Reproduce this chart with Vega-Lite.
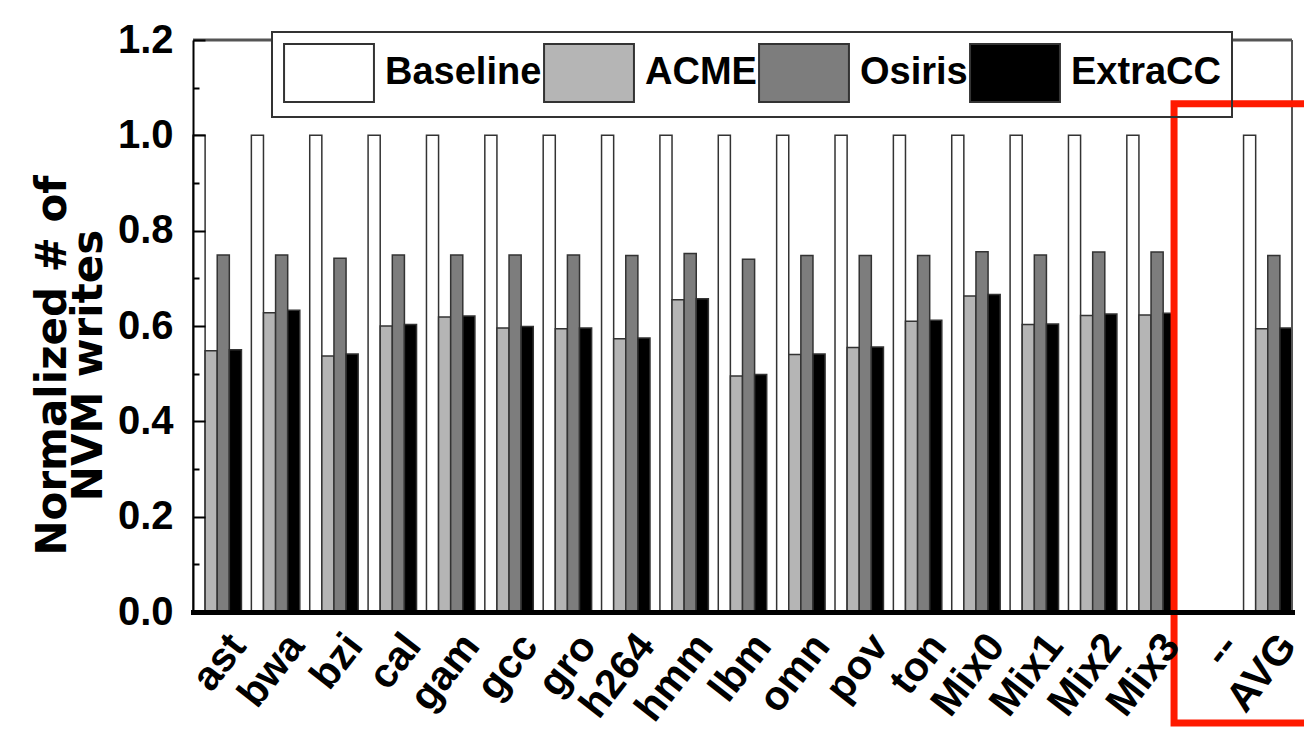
{
  "$schema": "https://vega.github.io/schema/vega-lite/v6.json",
  "autosize": "none",
  "padding": {"left": 193, "top": 40, "right": 12, "bottom": 117},
  "width": 1099,
  "height": 572,
  "background": "white",
  "data": {
    "values": [
      {"bench": "ast", "scheme": "Baseline", "value": 1.0}, {"bench": "ast", "scheme": "ACME", "value": 0.548}, {"bench": "ast", "scheme": "Osiris", "value": 0.749}, {"bench": "ast", "scheme": "ExtraCC", "value": 0.55},
      {"bench": "bwa", "scheme": "Baseline", "value": 1.0}, {"bench": "bwa", "scheme": "ACME", "value": 0.628}, {"bench": "bwa", "scheme": "Osiris", "value": 0.749}, {"bench": "bwa", "scheme": "ExtraCC", "value": 0.633},
      {"bench": "bzi", "scheme": "Baseline", "value": 1.0}, {"bench": "bzi", "scheme": "ACME", "value": 0.537}, {"bench": "bzi", "scheme": "Osiris", "value": 0.742}, {"bench": "bzi", "scheme": "ExtraCC", "value": 0.541},
      {"bench": "cal", "scheme": "Baseline", "value": 1.0}, {"bench": "cal", "scheme": "ACME", "value": 0.6}, {"bench": "cal", "scheme": "Osiris", "value": 0.749}, {"bench": "cal", "scheme": "ExtraCC", "value": 0.603},
      {"bench": "gam", "scheme": "Baseline", "value": 1.0}, {"bench": "gam", "scheme": "ACME", "value": 0.619}, {"bench": "gam", "scheme": "Osiris", "value": 0.749}, {"bench": "gam", "scheme": "ExtraCC", "value": 0.621},
      {"bench": "gcc", "scheme": "Baseline", "value": 1.0}, {"bench": "gcc", "scheme": "ACME", "value": 0.596}, {"bench": "gcc", "scheme": "Osiris", "value": 0.749}, {"bench": "gcc", "scheme": "ExtraCC", "value": 0.599},
      {"bench": "gro", "scheme": "Baseline", "value": 1.0}, {"bench": "gro", "scheme": "ACME", "value": 0.594}, {"bench": "gro", "scheme": "Osiris", "value": 0.749}, {"bench": "gro", "scheme": "ExtraCC", "value": 0.596},
      {"bench": "h264", "scheme": "Baseline", "value": 1.0}, {"bench": "h264", "scheme": "ACME", "value": 0.573}, {"bench": "h264", "scheme": "Osiris", "value": 0.748}, {"bench": "h264", "scheme": "ExtraCC", "value": 0.575},
      {"bench": "hmm", "scheme": "Baseline", "value": 1.0}, {"bench": "hmm", "scheme": "ACME", "value": 0.655}, {"bench": "hmm", "scheme": "Osiris", "value": 0.752}, {"bench": "hmm", "scheme": "ExtraCC", "value": 0.657},
      {"bench": "lbm", "scheme": "Baseline", "value": 1.0}, {"bench": "lbm", "scheme": "ACME", "value": 0.495}, {"bench": "lbm", "scheme": "Osiris", "value": 0.74}, {"bench": "lbm", "scheme": "ExtraCC", "value": 0.498},
      {"bench": "omn", "scheme": "Baseline", "value": 1.0}, {"bench": "omn", "scheme": "ACME", "value": 0.54}, {"bench": "omn", "scheme": "Osiris", "value": 0.748}, {"bench": "omn", "scheme": "ExtraCC", "value": 0.541},
      {"bench": "pov", "scheme": "Baseline", "value": 1.0}, {"bench": "pov", "scheme": "ACME", "value": 0.555}, {"bench": "pov", "scheme": "Osiris", "value": 0.748}, {"bench": "pov", "scheme": "ExtraCC", "value": 0.556},
      {"bench": "ton", "scheme": "Baseline", "value": 1.0}, {"bench": "ton", "scheme": "ACME", "value": 0.61}, {"bench": "ton", "scheme": "Osiris", "value": 0.748}, {"bench": "ton", "scheme": "ExtraCC", "value": 0.612},
      {"bench": "Mix0", "scheme": "Baseline", "value": 1.0}, {"bench": "Mix0", "scheme": "ACME", "value": 0.663}, {"bench": "Mix0", "scheme": "Osiris", "value": 0.756}, {"bench": "Mix0", "scheme": "ExtraCC", "value": 0.666},
      {"bench": "Mix1", "scheme": "Baseline", "value": 1.0}, {"bench": "Mix1", "scheme": "ACME", "value": 0.603}, {"bench": "Mix1", "scheme": "Osiris", "value": 0.749}, {"bench": "Mix1", "scheme": "ExtraCC", "value": 0.604},
      {"bench": "Mix2", "scheme": "Baseline", "value": 1.0}, {"bench": "Mix2", "scheme": "ACME", "value": 0.622}, {"bench": "Mix2", "scheme": "Osiris", "value": 0.755}, {"bench": "Mix2", "scheme": "ExtraCC", "value": 0.625},
      {"bench": "Mix3", "scheme": "Baseline", "value": 1.0}, {"bench": "Mix3", "scheme": "ACME", "value": 0.623}, {"bench": "Mix3", "scheme": "Osiris", "value": 0.755}, {"bench": "Mix3", "scheme": "ExtraCC", "value": 0.627},
      {"bench": "AVG", "scheme": "Baseline", "value": 1.0}, {"bench": "AVG", "scheme": "ACME", "value": 0.594}, {"bench": "AVG", "scheme": "Osiris", "value": 0.748}, {"bench": "AVG", "scheme": "ExtraCC", "value": 0.596}
    ]
  },
  "encoding": {
    "x": {
      "field": "bench",
      "type": "nominal",
      "scale": {
        "domain": ["ast", "bwa", "bzi", "cal", "gam", "gcc", "gro", "h264", "hmm", "lbm", "omn", "pov", "ton", "Mix0", "Mix1", "Mix2", "Mix3", "--", "AVG"],
        "paddingInner": 0.17,
        "paddingOuter": 0
      },
      "axis": {
        "title": null,
        "labelAngle": -52,
        "labelAlign": "right",
        "labelBaseline": "middle",
        "ticks": false,
        "domainWidth": 5,
        "domainColor": "black",
        "domainCap": "square",
        "zindex": 2,
        "labelFont": "Liberation Sans",
        "labelFontWeight": "bold",
        "labelFontSize": 41,
        "labelColor": "black",
        "labelPadding": 27,
        "labelOffset": 21,
        "labelLimit": 300
      }
    },
    "y": {
      "field": "value",
      "type": "quantitative",
      "scale": {"domain": [0, 1.2], "nice": false, "zero": true},
      "axis": {
        "values": [0, 0.1, 0.2, 0.3, 0.4, 0.5, 0.6, 0.7, 0.8, 0.9, 1.0, 1.1, 1.2],
        "labelExpr": "round(datum.value*10)%2===0 ? format(datum.value,'.1f') : ''",
        "tickSize": {"condition": {"test": "round(datum.value*10)%2===0", "value": -12}, "value": -6},
        "tickColor": "black",
        "tickWidth": 2,
        "domainColor": "black",
        "domainWidth": 2,
        "zindex": 2,
        "grid": false,
        "labelFont": "Liberation Sans",
        "labelFontWeight": "bold",
        "labelFontSize": 40,
        "labelColor": "black",
        "labelPadding": 32,
        "labelFlush": false,
        "labelOverlap": false,
        "title": ["Normalized # of", "NVM writes"],
        "titleFont": "DejaVu Sans",
        "titleFontWeight": "bold",
        "titleFontSize": 42,
        "titleColor": "black",
        "titleX": -128,
        "titleY": 325,
        "titleAngle": -90,
        "titleAlign": "center",
        "titleBaseline": "alphabetic",
        "titleLineHeight": 36
      }
    }
  },
  "layer": [
    {
      "mark": {"type": "bar", "stroke": "#333", "strokeWidth": 1.5},
      "encoding": {
        "xOffset": {
          "field": "scheme",
          "type": "nominal",
          "scale": {"domain": ["Baseline", "ACME", "Osiris", "ExtraCC"], "paddingInner": 0, "paddingOuter": 0}
        },
        "color": {
          "field": "scheme",
          "type": "nominal",
          "scale": {"domain": ["Baseline", "ACME", "Osiris", "ExtraCC"], "range": ["#ffffff", "#b5b5b5", "#7d7d7d", "#000000"]},
          "legend": {
            "title": null,
            "orient": "none",
            "legendX": 79,
            "legendY": -8,
            "direction": "horizontal",
            "symbolType": "M-1.55,-1H1.55V1H-1.55Z",
            "symbolSize": 3364,
            "symbolStrokeColor": "#333",
            "symbolStrokeWidth": 2,
            "symbolOffset": 16,
            "labelFont": "Liberation Sans",
            "labelFontWeight": "bold",
            "labelFontSize": 38,
            "labelColor": "black",
            "labelOffset": 26,
            "labelLimit": 300,
            "columnPadding": -2,
            "padding": 11,
            "fillColor": "transparent",
            "strokeColor": "#333"
          }
        }
      }
    },
    {
      "transform": [{"filter": "datum.bench === 'AVG' && datum.scheme === 'Baseline'"}],
      "mark": {"type": "rule", "stroke": "#555", "strokeWidth": 3},
      "encoding": {
        "x": {"datum": "ast", "bandPosition": 0},
        "x2": {"datum": "bwa", "bandPosition": 0.43},
        "y": {"datum": 1.2}
      }
    },
    {
      "transform": [{"filter": "datum.bench === 'AVG' && datum.scheme === 'Baseline'"}],
      "mark": {"type": "rule", "stroke": "#555", "strokeWidth": 3},
      "encoding": {
        "x": {"datum": "--", "bandPosition": 0.97},
        "x2": {"datum": "AVG", "bandPosition": 1},
        "y": {"datum": 1.2}
      }
    },
    {
      "transform": [{"filter": "datum.bench === 'AVG' && datum.scheme === 'Baseline'"}],
      "mark": {"type": "rule", "stroke": "#555", "strokeWidth": 2},
      "encoding": {
        "x": {"datum": "AVG", "bandPosition": 1},
        "y": {"datum": 0},
        "y2": {"datum": 1.2}
      }
    },
    {
      "transform": [{"filter": "datum.bench === 'AVG' && datum.scheme === 'Baseline'"}],
      "mark": {"type": "rect", "fill": null, "filled": false, "stroke": "#ff1a00", "strokeWidth": 7, "clip": false},
      "encoding": {
        "x": {"datum": "--", "bandPosition": -0.23},
        "x2": {"datum": "AVG", "bandPosition": 3},
        "y": {"datum": 1.066},
        "y2": {"datum": -0.233}
      }
    }
  ],
  "config": {
    "view": {"stroke": null},
    "legend": {"strokeWidth": 2}
  }
}
